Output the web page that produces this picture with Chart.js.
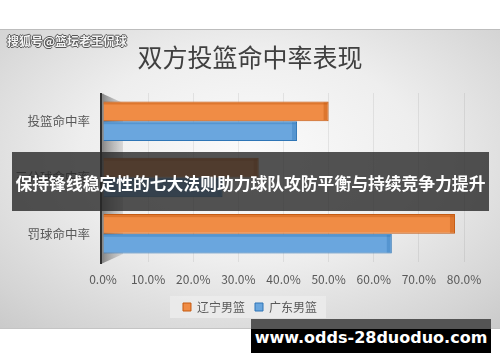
<!DOCTYPE html>
<html>
<head>
<meta charset="utf-8">
<script src="https://cdn.jsdelivr.net/npm/chart.js@4.4.0/dist/chart.umd.min.js"></script>
<style>
    html, body { margin: 0; padding: 0; background: #fff; }
    body { width: 500px; height: 362px; position: relative; overflow: hidden; font-family: "Noto Sans CJK SC", sans-serif; }
    #chartBox {
        position: absolute; left: 0; top: 29px; width: 500px; height: 300px;
        box-sizing: border-box; border-top: 1px solid #bdbdbd; border-bottom: 1px solid #c4c4c4;
        background: radial-gradient(ellipse 75% 80% at 50% 42%, #fbfbfb 0%, #eeeeee 45%, #d4d4d4 85%, #c9c9c9 100%);
    }
    #watermark {
        position: absolute; left: 7px; top: 32px; font-size: 12px; font-weight: bold; color: #f4f4f4;
        text-shadow: 1px 0 0 #555, -1px 0 0 #555, 0 1px 0 #555, 0 -1px 0 #555;
    }
    #banner {
        position: absolute; left: 12px; top: 152px; width: 477px; height: 59px;
        background: rgba(40, 40, 40, 0.8); color: #fff; font-weight: bold; font-size: 16.8px;
        line-height: 62px; text-align: center; white-space: nowrap;
    }
    #site {
        position: absolute; left: 251px; top: 319px; width: 240px; height: 34px;
        background: linear-gradient(to bottom, #545454 0, #545454 10px, #000 10px);
        color: #fff; font-family: "DejaVu Sans", sans-serif; font-weight: bold; font-size: 16px;
        line-height: 38px; text-align: center; white-space: nowrap;
    }
</style>
</head>
<body>
<div id="chartBox"><canvas id="myChart"></canvas></div>
<div id="watermark">搜狐号@篮坛老王侃球</div>
<div id="banner">保持锋线稳定性的七大法则助力球队攻防平衡与持续竞争力提升</div>
<div id="site">www.odds-28duoduo.com</div>
<script>
'use strict';

let categories = ['投篮命中率', '三分球命中率', '罚球命中率'];
let seriesNames = ['辽宁男篮', '广东男篮'];
let liaoningValues = [50, 34.5, 78];
let guangdongValues = [43, 26.5, 64];
let tickValues = [0, 10, 20, 30, 40, 50, 60, 70, 80];
let chartTitle = '双方投篮命中率表现';

const fontFamily = '"Noto Sans CJK SC", sans-serif';
const textColor = '#595959';

// left wall of the 3d plot
let wallPlugin = {
    id: 'wall',
    beforeDatasetsDraw: function (chart) {
        let ctx = chart.ctx;
        let a = chart.chartArea;
        let x0 = a.left - 2;
        ctx.save();
        let grad = ctx.createLinearGradient(x0, 0, x0 + 22, 0);
        grad.addColorStop(0, 'rgba(110,110,110,0.85)');
        grad.addColorStop(1, 'rgba(170,170,170,0.35)');
        ctx.fillStyle = grad;
        ctx.beginPath();
        ctx.moveTo(x0, a.top);
        ctx.lineTo(x0 + 22, a.top + 10);
        ctx.lineTo(x0 + 22, a.bottom - 8);
        ctx.lineTo(x0, a.bottom + 2);
        ctx.closePath();
        ctx.fill();
        ctx.fillStyle = '#2f2f2f';
        ctx.fillRect(x0 - 1, a.top, 2, a.bottom - a.top + 2);
        ctx.restore();
    }
};

// darker end face on each bar
let barFacePlugin = {
    id: 'barFace',
    afterDatasetsDraw: function (chart) {
        let ctx = chart.ctx;
        ctx.save();
        chart.data.datasets.forEach(function (ds, i) {
            chart.getDatasetMeta(i).data.forEach(function (bar) {
                let top = bar.y - bar.height / 2;
                ctx.fillStyle = ds.faceColor;
                ctx.fillRect(bar.x - 5, top + 1, 4, bar.height - 2);
                ctx.fillRect(bar.base, top + 1, bar.x - bar.base - 1, 2);
            });
        });
        ctx.restore();
    }
};

let legendBgPlugin = {
    id: 'legendBg',
    beforeDraw: function (chart) {
        let boxes = chart.legend.legendHitBoxes;
        if (!boxes || !boxes.length) return;
        let first = boxes[0];
        let last = boxes[boxes.length - 1];
        let ctx = chart.ctx;
        ctx.save();
        ctx.fillStyle = 'rgba(235,235,235,0.9)';
        ctx.fillRect(first.left - 13, first.top - 5, last.left + last.width - first.left + 22, first.height + 10);
        ctx.restore();
    }
};

let ctx = document.getElementById('myChart').getContext('2d');
let myChart = new Chart(ctx, {
    type: 'bar',
    data: {
        labels: categories,
        datasets: [{
            label: seriesNames[0],
            data: liaoningValues,
            backgroundColor: '#F08C45',
            borderColor: '#C55A11',
            faceColor: 'rgba(197,90,17,0.45)',
            borderWidth: 1
        }, {
            label: seriesNames[1],
            data: guangdongValues,
            backgroundColor: '#6AA6DE',
            borderColor: '#2E75B6',
            faceColor: 'rgba(46,117,182,0.35)',
            borderWidth: 1
        }]
    },
    options: {
        indexAxis: 'y',
        responsive: true,
        maintainAspectRatio: false,
        animation: false,
        layout: { padding: { left: 0, right: 0, top: 0, bottom: 5 } },
        datasets: {
            bar: { categoryPercentage: 0.7, barPercentage: 1 }
        },
        scales: {
            x: {
                min: 0,
                max: 80,
                afterBuildTicks: function (scale) {
                    scale.ticks = tickValues.map(v => ({ value: v }));
                },
                afterFit: function (scale) { scale.height = 29; },
                ticks: {
                    padding: 10,
                    color: textColor,
                    font: { family: fontFamily, size: 12 },
                    callback: v => v.toFixed(1) + '%'
                },
                grid: { color: 'rgba(0,0,0,0.07)', drawTicks: false },
                border: { display: false }
            },
            y: {
                afterFit: function (scale) { scale.width = 103; },
                ticks: {
                    padding: 13,
                    color: textColor,
                    font: { family: fontFamily, size: 12.5 }
                },
                grid: { display: false, drawTicks: false },
                border: { display: false }
            },
            // empty right axis, only keeps room for the last tick label
            yRight: {
                type: 'category',
                position: 'right',
                afterFit: function (scale) { scale.width = 36; },
                ticks: { display: false },
                grid: { display: false, drawTicks: false },
                border: { display: false }
            }
        },
        plugins: {
            title: {
                display: true,
                text: chartTitle,
                color: '#404040',
                font: { family: fontFamily, size: 25, weight: 'normal', lineHeight: 1.2 },
                padding: { top: 12, bottom: 21 }
            },
            legend: {
                position: 'bottom',
                labels: {
                    boxWidth: 8,
                    boxHeight: 8,
                    padding: 10,
                    color: textColor,
                    font: { family: fontFamily, size: 12 }
                }
            },
            tooltip: { enabled: false }
        }
    },
    plugins: [legendBgPlugin, wallPlugin, barFacePlugin]
});
</script>
</body>
</html>
